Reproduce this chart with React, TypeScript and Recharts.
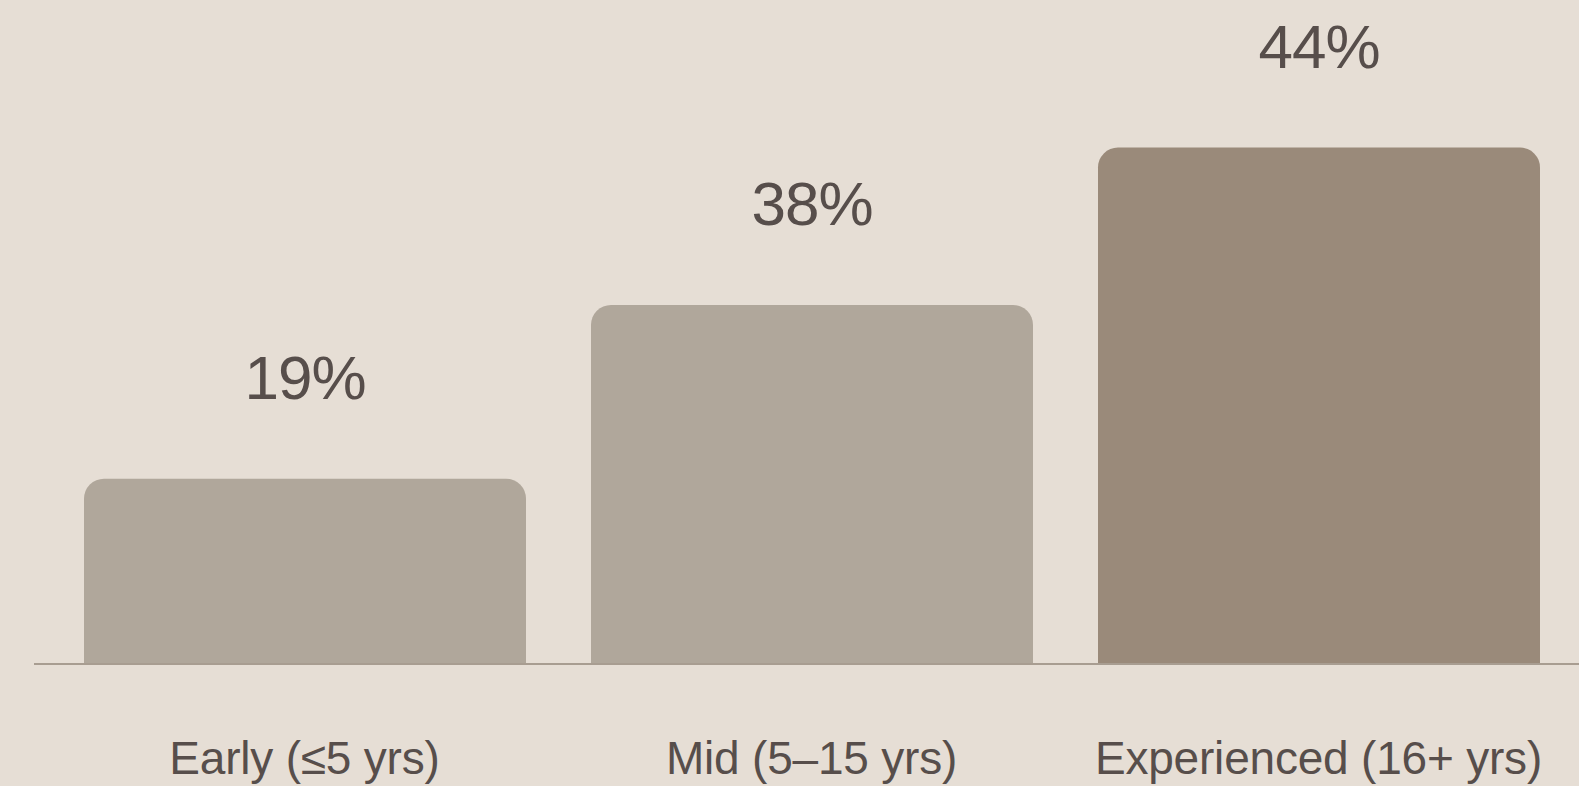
import { Bar, BarChart, Cell, LabelList, XAxis, YAxis } from "recharts";

// career stage buckets
const categories = ["Early (≤5 yrs)", "Mid (5–15 yrs)", "Experienced (16+ yrs)"];
// printed share above each bar
const shares = [19, 38, 44];
// bar lengths as drawn (the last bar is drawn taller than its label alone would give)
const barLengths = [19.3, 37.4, 53.8];
const barColors = ["#b0a79b", "#b0a79b", "#9a8a7a"];

const data = categories.map((name, i) => ({
  name,
  share: shares[i],
  length: barLengths[i],
}));

const FONT = '"Liberation Sans", Arial, sans-serif';
const INK = "#574e4b";

const CategoryTick = (props: any) => {
  const { x, y, payload } = props;
  return (
    <text
      x={x}
      y={y + 110}
      textAnchor="middle"
      fill={INK}
      fontFamily={FONT}
      fontSize={46}
      letterSpacing={-0.2}
    >
      {payload.value}
    </text>
  );
};

const ShareLabel = (props: any) => {
  const { x, y, width, index } = props;
  return (
    <text
      x={x + width / 2}
      y={y - 80}
      textAnchor="middle"
      fill={INK}
      fontFamily={FONT}
      fontSize={62}
      letterSpacing={-1}
    >
      {shares[index]}%
    </text>
  );
};

const App = () => {
  return (
    <div
      style={{
        position: "fixed",
        left: 0,
        top: 0,
        width: 1579,
        height: 786,
        background: "#e6ded5",
      }}
    >
      <BarChart
        width={1579}
        height={786}
        data={data}
        margin={{ top: 88, right: 0, bottom: 0, left: 34 }}
      >
        <XAxis
          dataKey="name"
          height={122}
          padding={{ left: 17, right: 7 }}
          axisLine={{ stroke: "#a89d91", strokeWidth: 2 }}
          tickLine={false}
          tickSize={0}
          tickMargin={0}
          interval={0}
          tick={<CategoryTick />}
        />
        <YAxis hide domain={[0, 60]} />
        <Bar
          dataKey="length"
          barSize={442}
          radius={[20, 20, 0, 0]}
          isAnimationActive={false}
        >
          {data.map((d, i) => (
            <Cell key={d.name} fill={barColors[i]} />
          ))}
          <LabelList dataKey="share" content={<ShareLabel />} />
        </Bar>
      </BarChart>
    </div>
  );
};

export default App;
